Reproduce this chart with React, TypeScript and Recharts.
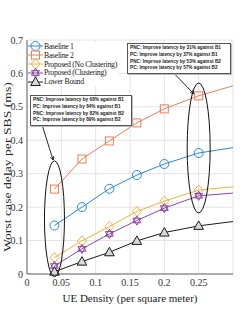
import { CartesianGrid, Line, LineChart, ReferenceDot, ReferenceLine, XAxis, YAxis } from "recharts";

const density = [0.04, 0.08, 0.12, 0.16, 0.2, 0.25, 0.3];
const baseline1 = [0.145, 0.2, 0.255, 0.296, 0.329, 0.362, 0.378];
const baseline2 = [0.254, 0.344, 0.398, 0.452, 0.494, 0.533, 0.563];
const proposedNoClustering = [0.049, 0.099, 0.142, 0.187, 0.218, 0.251, 0.261];
const proposedClustering = [0.024, 0.075, 0.12, 0.16, 0.197, 0.234, 0.242];
const lowerBound = [0.007, 0.037, 0.065, 0.099, 0.124, 0.144, 0.157];
// the last point only carries the line to the right edge, no marker
const markedPoints = 6;

const xTicks = [0, 0.05, 0.1, 0.15, 0.2, 0.25, 0.3];
const yTicks = [0, 0.1, 0.2, 0.3, 0.4, 0.5, 0.6, 0.7];

const noteLow = [
  "PNC: Improve latency by 68% against B1",
  "PC: Improve latency by 84% against B1",
  "PNC: Improve latency by 82% against B2",
  "PC: Improve latency by 89% against B2",
];
const noteHigh = [
  "PNC: Improve latency by 31% against B1",
  "PC: Improve latency by 37% against B1",
  "PNC: Improve latency by 53% against B2",
  "PC: Improve latency by 57% against B2",
];

type Shape = "circle" | "square" | "diamond" | "hexagram" | "triangle";

const series: { key: string; name: string; color: string; fill: string; shape: Shape; values: number[] }[] = [
  { key: "b1", name: "Baseline 1", color: "#2b8bd8", fill: "none", shape: "circle", values: baseline1 },
  { key: "b2", name: "Baseline 2", color: "#ef7d55", fill: "none", shape: "square", values: baseline2 },
  { key: "pnc", name: "Proposed (No Clustering)", color: "#f2b23a", fill: "none", shape: "diamond", values: proposedNoClustering },
  { key: "pc", name: "Proposed (Clustering)", color: "#8e44a8", fill: "none", shape: "hexagram", values: proposedClustering },
  { key: "lb", name: "Lower Bound", color: "#1a1a1a", fill: "#d8d8d8", shape: "triangle", values: lowerBound },
];

const data = density.map((x, i) => {
  const row: Record<string, number> = { x };
  series.forEach((s) => (row[s.key] = s.values[i]));
  return row;
});

function Marker({ cx, cy, shape, color, fill }: { cx: number; cy: number; shape: Shape; color: string; fill: string }) {
  const common = { stroke: color, strokeWidth: 1, fill };
  if (shape === "circle") return <circle cx={cx} cy={cy} r={4.5} {...common} />;
  if (shape === "square") return <rect x={cx - 4} y={cy - 4} width={8} height={8} {...common} />;
  if (shape === "diamond")
    return <path d={`M${cx},${cy - 5}L${cx + 4.5},${cy}L${cx},${cy + 5}L${cx - 4.5},${cy}Z`} {...common} />;
  if (shape === "triangle")
    return <path d={`M${cx},${cy - 5}L${cx + 4.8},${cy + 3.5}L${cx - 4.8},${cy + 3.5}Z`} {...common} />;
  const r = 4.6;
  const t1: string[] = [];
  const t2: string[] = [];
  for (let k = 0; k < 3; k++) {
    const a1 = -Math.PI / 2 + (k * 2 * Math.PI) / 3;
    const a2 = Math.PI / 2 + (k * 2 * Math.PI) / 3;
    t1.push(`${cx + r * Math.cos(a1)},${cy + r * Math.sin(a1)}`);
    t2.push(`${cx + r * Math.cos(a2)},${cy + r * Math.sin(a2)}`);
  }
  return (
    <g>
      <path d={`M${t1.join("L")}Z`} {...common} />
      <path d={`M${t2.join("L")}Z`} {...common} />
    </g>
  );
}

function Arrow(p: any) {
  const { x1, y1, x2, y2 } = p;
  const a = Math.atan2(y2 - y1, x2 - x1);
  const h = 4;
  const l = [x2 - h * Math.cos(a - 0.45), y2 - h * Math.sin(a - 0.45)];
  const r = [x2 - h * Math.cos(a + 0.45), y2 - h * Math.sin(a + 0.45)];
  return (
    <g stroke="#111" strokeWidth={0.9} fill="none">
      <line x1={x1} y1={y1} x2={x2} y2={y2} />
      <path d={`M${l[0]},${l[1]}L${x2},${y2}L${r[0]},${r[1]}`} />
    </g>
  );
}

const ellipse = (rx: number, ry: number) => (p: any) =>
  <ellipse cx={p.cx} cy={p.cy} rx={rx} ry={ry} fill="none" stroke="#111" strokeWidth={1} />;

const serif = "'Liberation Serif', 'DejaVu Serif', serif";

function YLabel({ viewBox }: any) {
  const { x, y, height } = viewBox;
  return (
    <text
      transform={`translate(${x + 8},${y + height / 2 + 10}) rotate(-90) scale(1.37,1)`}
      textAnchor="middle"
      dominantBaseline="central"
      fontFamily={serif}
      fontSize={10}
      fill="#222"
    >
      Worst case delay per SBS (ms)
    </text>
  );
}

function Note({ lines, left, top, width }: { lines: string[]; left: number; top: number; width: number }) {
  return (
    <div
      style={{
        position: "absolute",
        left,
        top,
        width,
        padding: "1px 2px",
        boxSizing: "border-box",
        background: "#fff",
        border: "1px solid #555",
        boxShadow: "1px 1px 0 #bbb",
        fontFamily: "'Liberation Sans', Arial, sans-serif",
        fontWeight: 700,
        fontSize: 4.7,
        lineHeight: "6.8px",
        color: "#222",
        whiteSpace: "nowrap",
      }}
    >
      {lines.map((t) => (
        <div key={t}>{t}</div>
      ))}
    </div>
  );
}

export default function App() {
  return (
    <div style={{ position: "absolute", left: 0, top: 0, width: 251, height: 325, background: "#fff" }}>
      <LineChart width={251} height={325} data={data} margin={{ top: 40, right: 18, bottom: 21, left: 0 }}>
        <CartesianGrid stroke="#e4e4e4" strokeWidth={1} />
        <XAxis
          dataKey="x"
          type="number"
          domain={[0, 0.3]}
          ticks={xTicks}
          tickFormatter={(v: number) => (v === 0.3 ? "" : String(v))}
          height={30}
          tickLine={false}
          tickSize={2}
          tickMargin={3}
          axisLine={{ stroke: "#666" }}
          tick={{ fontFamily: serif, fontSize: 10, fill: "#333" }}
          label={{ value: "UE Density (per square meter)", position: "insideBottom", offset: 2, fontFamily: serif, fontSize: 11, fill: "#222" }}
        />
        <YAxis
          type="number"
          domain={[0, 0.7]}
          ticks={yTicks}
          width={27}
          tickLine={false}
          tickSize={2}
          tickMargin={2}
          axisLine={{ stroke: "#666" }}
          tick={{ fontFamily: serif, fontSize: 10, fill: "#333" }}
          label={<YLabel />}
        />
        {series.map((s) => (
          <Line
            key={s.key}
            dataKey={s.key}
            name={s.name}
            stroke={s.color}
            strokeWidth={1}
            isAnimationActive={false}
            activeDot={false}
            dot={(p: any) =>
              p.index < markedPoints ? (
                <Marker key={`${s.key}-${p.index}`} cx={p.cx} cy={p.cy} shape={s.shape} color={s.color} fill={s.fill} />
              ) : (
                <g key={`${s.key}-${p.index}`} />
              )
            }
          />
        ))}
        <ReferenceDot x={0.04} y={0.165} r={1} ifOverflow="visible" shape={ellipse(10, 58)} />
        <ReferenceDot x={0.25} y={0.377} r={1} ifOverflow="visible" shape={ellipse(11.5, 65)} />
        <ReferenceLine
          segment={[{ x: 0.022, y: 0.446 }, { x: 0.038, y: 0.341 }]}
          ifOverflow="visible"
          shape={Arrow}
        />
        <ReferenceLine
          segment={[{ x: 0.216, y: 0.596 }, { x: 0.243, y: 0.539 }]}
          ifOverflow="visible"
          shape={Arrow}
        />
      </LineChart>
      <div style={{ position: "absolute", left: 28, top: 42, background: "#fff", padding: "0 1px 0 0" }}>
        {series.map((s) => (
          <div key={s.key} style={{ display: "flex", alignItems: "center", height: 8.8 }}>
            <svg width={15} height={10} style={{ flex: "none" }}>
              <line x1={0} y1={5} x2={15} y2={5} stroke={s.color} strokeWidth={1} />
              <Marker cx={7.5} cy={5} shape={s.shape} color={s.color} fill={s.fill} />
            </svg>
            <span
              style={{
                fontFamily: serif,
                fontSize: 7.8,
                letterSpacing: -0.3,
                color: "#222",
                marginLeft: 1,
                whiteSpace: "nowrap",
              }}
            >
              {s.name}
            </span>
          </div>
        ))}
      </div>
      <Note lines={noteLow} left={30} top={95} width={102} />
      <Note lines={noteHigh} left={127} top={43} width={104} />
    </div>
  );
}
